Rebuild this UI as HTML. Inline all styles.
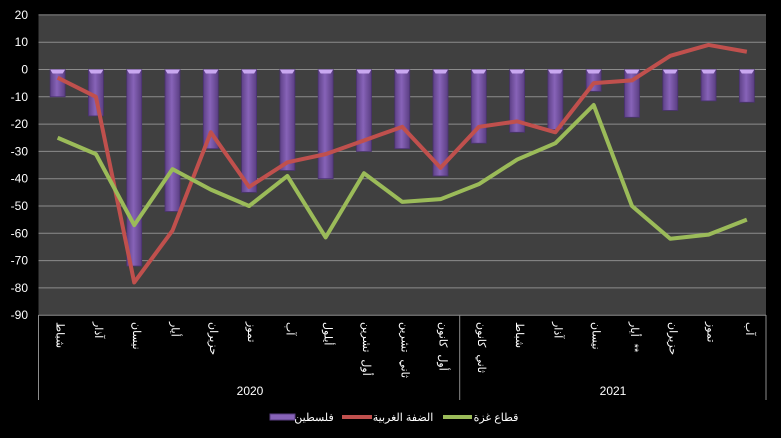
<!DOCTYPE html>
<html><head><meta charset="utf-8"><style>
html,body{margin:0;padding:0;background:#000;}
svg{display:block;font-family:"Liberation Sans","Noto Sans CJK SC",sans-serif;}
</style></head><body>
<svg width="781" height="438" viewBox="0 0 781 438" xmlns="http://www.w3.org/2000/svg">
<defs>
<linearGradient id="bg" x1="0" x2="1" y1="0" y2="0">
<stop offset="0" stop-color="#5e4187"/><stop offset="0.45" stop-color="#8763b8"/><stop offset="1" stop-color="#5a3e82"/>
</linearGradient>
</defs>
<rect x="38.5" y="15" width="727.5" height="300" fill="#404040"/>
<g id="grid" stroke="#8c8c8c" stroke-width="1"></g>
<g id="bars"></g>
<g id="lines"></g>
<g id="ylab" fill="#fff" font-size="12" text-anchor="end"></g>
<g id="xlab" fill="#fff" font-size="11"></g>
<g stroke="#8c8c8c" stroke-width="1">
<line x1="38.5" y1="315" x2="38.5" y2="400"/>
<line x1="459.7" y1="315" x2="459.7" y2="400"/>
<line x1="766" y1="315" x2="766" y2="400"/>
</g>
<text x="250" y="395" fill="#fff" font-size="12" text-anchor="middle">2020</text>
<text x="613" y="395" fill="#fff" font-size="12" text-anchor="middle">2021</text>
<rect x="270" y="414" width="25" height="6" fill="#8763b8" stroke="#5a3e82"/>
<text x="314" y="421" fill="#fff" font-size="11" text-anchor="middle">فلسطين</text>
<line x1="342" y1="417" x2="372" y2="417" stroke="#c0504d" stroke-width="4"/>
<text x="403" y="421" fill="#fff" font-size="11" text-anchor="middle">الضفة الغربية</text>
<line x1="443" y1="417" x2="472" y2="417" stroke="#9bbb59" stroke-width="4"/>
<text x="496" y="421" fill="#fff" font-size="11" text-anchor="middle">قطاع غزة</text>
</svg>
<script>
const ns="http://www.w3.org/2000/svg";
const L=38.5,W=727.5/19,Y=v=>69.5-v*2.73;
function el(p,t,a,txt){const e=document.createElementNS(ns,t);for(const k in a)e.setAttribute(k,a[k]);if(txt)e.textContent=txt;document.getElementById(p).appendChild(e);return e;}
for(let v=20;v>=-90;v-=10){el("grid","line",{x1:L,x2:766,y1:Y(v),y2:Y(v)});el("ylab","text",{x:28,y:Y(v)+4},String(v));}
const bars=[-10,-17,-72,-52,-29,-45,-37,-40,-30,-29,-39,-27,-23,-22,-8,-17.5,-15,-11.5,-12];
const red=[-3,-10,-78,-59,-23,-43,-34,-31,-26,-21,-36,-21,-19,-23,-5,-4,5,9,6.5];
const grn=[-25,-31,-57,-36.5,-44,-50,-39,-61.5,-38,-48.5,-47.5,-42,-33,-27,-13,-50,-62,-60.5,-55];
const cx=i=>L+(i+0.5)*W;
bars.forEach((v,i)=>{el("bars","rect",{x:cx(i)-7.5,y:Y(0),width:15,height:Y(v)-Y(0),fill:"url(#bg)",stroke:"#4a3270","stroke-width":0.8});
el("bars","polygon",{points:`${cx(i)-7.5},${Y(0)} ${cx(i)+7.5},${Y(0)} ${cx(i)+5},${Y(0)+4} ${cx(i)-5},${Y(0)+4}`,fill:"#c9a8f0"});});
el("lines","polyline",{points:red.map((v,i)=>cx(i)+","+Y(v)).join(" "),fill:"none",stroke:"#c0504d","stroke-width":4,"stroke-linejoin":"round"});
el("lines","polyline",{points:grn.map((v,i)=>cx(i)+","+Y(v)).join(" "),fill:"none",stroke:"#9bbb59","stroke-width":4,"stroke-linejoin":"round"});
const labs=[["شباط"],["آذار"],["نيسان"],["أيار"],["حزيران"],["تموز"],["آب"],["أيلول"],["تشرين","أول"],["تشرين","ثاني"],["كانون","أول"],["كانون","ثاني"],["شباط"],["آذار"],["نيسان"],["أيار","**"],["حزيران"],["تموز"],["آب"]];
labs.forEach((l,i)=>{let y=322;l.forEach((s,j)=>{const x=cx(i)-1;
const g=el("xlab","g",{transform:`translate(${x} ${y}) rotate(90)`});
const t=document.createElementNS(ns,"text");t.setAttribute("x",0);t.setAttribute("y",0);t.setAttribute("text-anchor","middle");t.textContent=s;g.appendChild(t);
const w=t.getComputedTextLength();t.setAttribute("x",w/2);y+=w+7;});});
</script>
</body></html>
